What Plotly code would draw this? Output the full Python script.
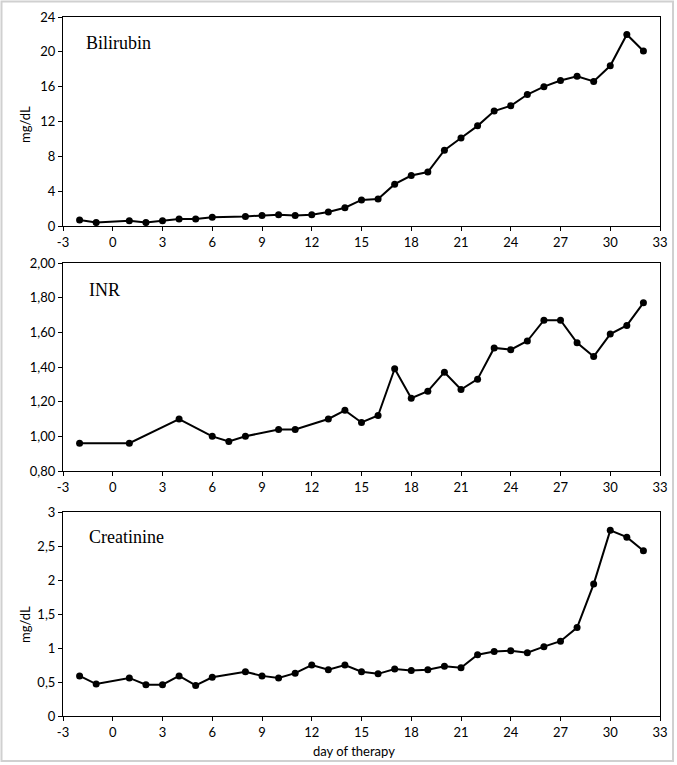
import plotly.graph_objects as go
from plotly.subplots import make_subplots

bili_days = [-2, -1, 1, 2, 3, 4, 5, 6, 8, 9, 10, 11, 12, 13, 14, 15, 16, 17, 18, 19, 20, 21, 22, 23, 24, 25, 26, 27, 28, 29, 30, 31, 32]
bili_vals = [0.7, 0.4, 0.6, 0.4, 0.6, 0.8, 0.8, 1.0, 1.1, 1.2, 1.3, 1.2, 1.3, 1.6, 2.1, 3.0, 3.1, 4.8, 5.8, 6.2, 8.7, 10.1, 11.5, 13.2, 13.8, 15.1, 16.0, 16.7, 17.2, 16.6, 18.4, 22.0, 20.1]

inr_days = [-2, 1, 4, 6, 7, 8, 10, 11, 13, 14, 15, 16, 17, 18, 19, 20, 21, 22, 23, 24, 25, 26, 27, 28, 29, 30, 31, 32]
inr_vals = [0.96, 0.96, 1.10, 1.00, 0.97, 1.00, 1.04, 1.04, 1.10, 1.15, 1.08, 1.12, 1.39, 1.22, 1.26, 1.37, 1.27, 1.33, 1.51, 1.50, 1.55, 1.67, 1.67, 1.54, 1.46, 1.59, 1.64, 1.77]

crea_days = [-2, -1, 1, 2, 3, 4, 5, 6, 8, 9, 10, 11, 12, 13, 14, 15, 16, 17, 18, 19, 20, 21, 22, 23, 24, 25, 26, 27, 28, 29, 30, 31, 32]
crea_vals = [0.59, 0.47, 0.56, 0.46, 0.46, 0.59, 0.45, 0.57, 0.65, 0.59, 0.56, 0.63, 0.75, 0.68, 0.75, 0.65, 0.62, 0.69, 0.67, 0.68, 0.73, 0.71, 0.90, 0.95, 0.96, 0.93, 1.02, 1.10, 1.30, 1.94, 2.73, 2.63, 2.43]

x_ticks = [-3, 0, 3, 6, 9, 12, 15, 18, 21, 24, 27, 30, 33]
x_ticktext = [str(v) for v in x_ticks]  # ASCII hyphen for "-3"

panel_titles = ["Bilirubin", "INR", "Creatinine"]
x_title = "day of therapy"
y_title = "mg/dL"

W, H = 677, 765
L, R, T, B = 63, 17, 17, 49
pw = W - L - R
ph = H - T - B
def py(p):
    return (H - B - p) / ph
def px(p):
    return (p - L) / pw

fig = make_subplots(rows=3, cols=1)
series = [(bili_days, bili_vals), (inr_days, inr_vals), (crea_days, crea_vals)]
for i, (xs, ys) in enumerate(series, start=1):
    fig.add_trace(go.Scatter(x=xs, y=ys, mode="lines+markers",
                             line=dict(color="black", width=2),
                             marker=dict(color="black", size=7),
                             showlegend=False), row=i, col=1)

domains = [[py(226), py(17)], [py(471), py(263)], [py(716), py(512)]]
sans = "Lato, 'Open Sans', sans-serif"
tickfont = dict(family=sans, size=13, color="black")
common_x = dict(range=[-3, 33], tickvals=x_ticks, ticktext=x_ticktext, showgrid=False, zeroline=False,
                showline=True, linecolor="black", linewidth=1, mirror=True, automargin=False,
                ticks="outside", ticklen=4, tickcolor="black", tickfont=tickfont)
common_y = dict(showgrid=False, zeroline=False, showline=True, linecolor="black", automargin=False,
                linewidth=1, mirror=True, ticks="outside", ticklen=4, tickcolor="black",
                tickfont=tickfont)

fig.update_layout(
    xaxis=dict(common_x, domain=[0, 1]),
    xaxis2=dict(common_x, domain=[0, 1]),
    xaxis3=dict(common_x, domain=[0, 1]),
    yaxis=dict(common_y, domain=domains[0], range=[0, 24], dtick=4),
    yaxis2=dict(common_y, domain=domains[1], range=[0.8, 2.0], dtick=0.2, tickformat=".2f"),
    yaxis3=dict(common_y, domain=domains[2], range=[0, 3], dtick=0.5),
    separators=",.",
    width=W, height=H,
    margin=dict(l=L, r=R, t=T, b=B, autoexpand=False),
    plot_bgcolor="white", paper_bgcolor="white",
)

ann_pos = [(84, 43), (87, 290), (87, 537)]
for txt, (ax_, ay_) in zip(panel_titles, ann_pos):
    fig.add_annotation(x=px(ax_), y=py(ay_), xref="paper", yref="paper",
                       text=txt, showarrow=False, xanchor="left", yanchor="middle",
                       font=dict(family="'Liberation Serif', 'Times New Roman', serif", size=18, color="black"))

# axis titles
for cy in (125, 625):
    fig.add_annotation(x=px(25), y=py(cy), xref="paper", yref="paper", text=y_title,
                       showarrow=False, textangle=-90, xanchor="center", yanchor="middle",
                       font=dict(family=sans, size=13, color="black"))
fig.add_annotation(x=px(354), y=py(751), xref="paper", yref="paper", text=x_title,
                   showarrow=False, xanchor="center", yanchor="middle",
                   font=dict(family=sans, size=13, color="black"))

# outer light-gray frame
fig.add_shape(type="rect", xref="paper", yref="paper",
              x0=px(1.5), x1=px(673), y0=py(761), y1=py(1.5),
              line=dict(color="#d0d0d0", width=2), fillcolor="rgba(0,0,0,0)", layer="above")

fig.write_html("out.html", config={"displayModeBar": False},
               post_script="document.body.style.margin='0';document.body.style.overflow='hidden';")
